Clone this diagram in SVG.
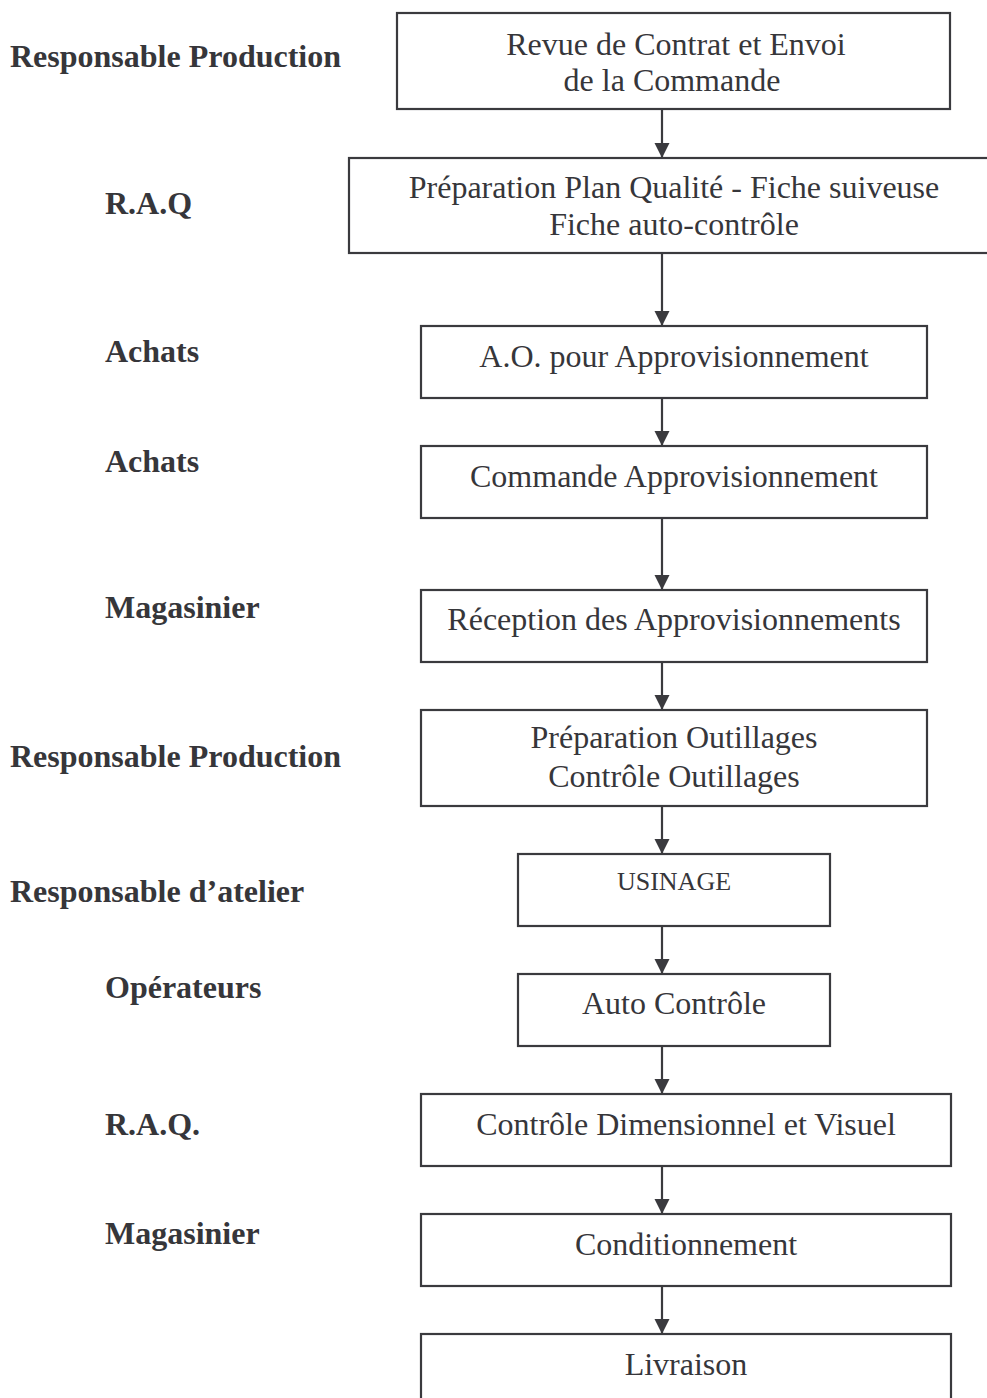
<svg xmlns="http://www.w3.org/2000/svg" width="987" height="1398" viewBox="0 0 987 1398">
<defs>
<style>
.box{fill:#fff;stroke:#3a3a3e;stroke-width:2.2}
.t{font-family:"Liberation Serif","Times New Roman",serif;font-size:32px;fill:#36363a;text-anchor:middle}
.lbl{font-family:"Liberation Serif","Times New Roman",serif;font-size:32px;font-weight:bold;fill:#36363a}
.c{stroke:#3a3a3e;stroke-width:2.2;fill:none;marker-end:url(#ah)}
</style>
<marker id="ah" markerWidth="16" markerHeight="16" viewBox="0 0 16 16" refX="15" refY="8" orient="auto" markerUnits="userSpaceOnUse">
<path d="M0,0.5 L15,8 L0,15.5 Z" fill="#3a3a3e"/>
</marker>
</defs>
<rect width="987" height="1398" fill="#fff"/>
<g id="labels">
<text class="lbl" x="10" y="67">Responsable Production</text>
<text class="lbl" x="105" y="214">R.A.Q</text>
<text class="lbl" x="105" y="362">Achats</text>
<text class="lbl" x="105" y="472">Achats</text>
<text class="lbl" x="105" y="618">Magasinier</text>
<text class="lbl" x="10" y="767">Responsable Production</text>
<text class="lbl" x="10" y="902">Responsable d’atelier</text>
<text class="lbl" x="105" y="998">Opérateurs</text>
<text class="lbl" x="105" y="1135">R.A.Q.</text>
<text class="lbl" x="105" y="1244">Magasinier</text>
</g>
<g id="connectors">
<line class="c" x1="662" y1="109" x2="662" y2="158"/>
<line class="c" x1="662" y1="253" x2="662" y2="326"/>
<line class="c" x1="662" y1="398" x2="662" y2="446"/>
<line class="c" x1="662" y1="518" x2="662" y2="590"/>
<line class="c" x1="662" y1="662" x2="662" y2="710"/>
<line class="c" x1="662" y1="806" x2="662" y2="854"/>
<line class="c" x1="662" y1="926" x2="662" y2="974"/>
<line class="c" x1="662" y1="1046" x2="662" y2="1094"/>
<line class="c" x1="662" y1="1166" x2="662" y2="1214"/>
<line class="c" x1="662" y1="1286" x2="662" y2="1334"/>
</g>
<g id="n1">
<rect class="box" x="397" y="13" width="553" height="96"/>
<text class="t" x="676" y="55">Revue de Contrat et Envoi</text>
<text class="t" x="672" y="91">de la Commande</text>
</g>
<g id="n2">
<rect class="box" x="349" y="158" width="650" height="95"/>
<text class="t" x="674" y="198">Préparation Plan Qualité - Fiche suiveuse</text>
<text class="t" x="674" y="235">Fiche auto-contrôle</text>
</g>
<g id="n3">
<rect class="box" x="421" y="326" width="506" height="72"/>
<text class="t" x="674" y="367">A.O. pour Approvisionnement</text>
</g>
<g id="n4">
<rect class="box" x="421" y="446" width="506" height="72"/>
<text class="t" x="674" y="487">Commande Approvisionnement</text>
</g>
<g id="n5">
<rect class="box" x="421" y="590" width="506" height="72"/>
<text class="t" x="674" y="630">Réception des Approvisionnements</text>
</g>
<g id="n6">
<rect class="box" x="421" y="710" width="506" height="96"/>
<text class="t" x="674" y="748">Préparation Outillages</text>
<text class="t" x="674" y="787">Contrôle Outillages</text>
</g>
<g id="n7">
<rect class="box" x="518" y="854" width="312" height="72"/>
<text class="t" x="674" y="890" style="font-size:26px">USINAGE</text>
</g>
<g id="n8">
<rect class="box" x="518" y="974" width="312" height="72"/>
<text class="t" x="674" y="1014">Auto Contrôle</text>
</g>
<g id="n9">
<rect class="box" x="421" y="1094" width="530" height="72"/>
<text class="t" x="686" y="1135">Contrôle Dimensionnel et Visuel</text>
</g>
<g id="n10">
<rect class="box" x="421" y="1214" width="530" height="72"/>
<text class="t" x="686" y="1255">Conditionnement</text>
</g>
<g id="n11">
<rect class="box" x="421" y="1334" width="530" height="80"/>
<text class="t" x="686" y="1375">Livraison</text>
</g>
</svg>
